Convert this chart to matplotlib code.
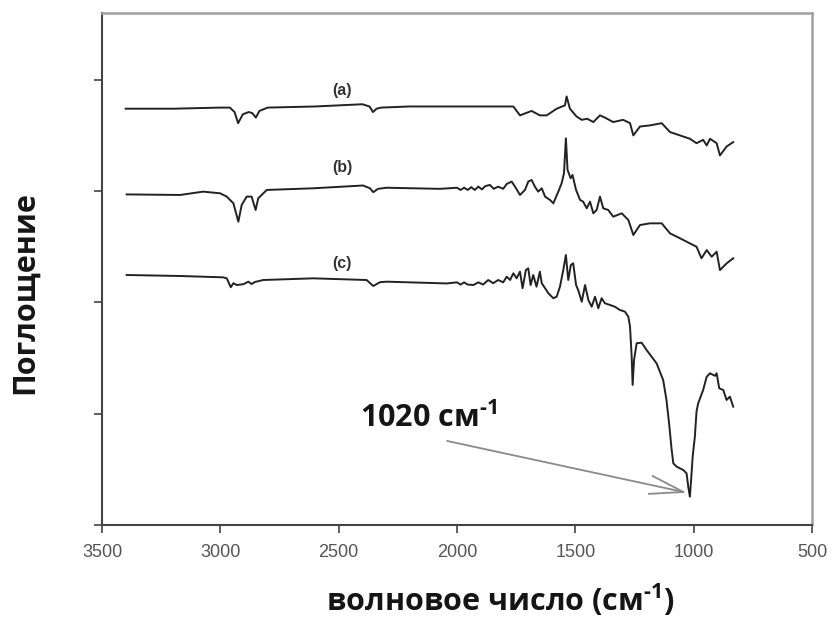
import matplotlib
matplotlib.use("Agg")
import matplotlib.pyplot as plt

plt.rcParams['mathtext.default'] = 'regular'
plt.rcParams['mathtext.fontset'] = 'custom'
plt.rcParams['mathtext.rm'] = 'Open Sans:bold'

# wavenumbers (cm-1) and absorbance, one list per spectrum
wn_a = [3400, 3200, 3000, 2960, 2940, 2925, 2905, 2880, 2865, 2850, 2835, 2800,
        2600, 2400, 2370, 2355, 2340, 2320, 2200, 2030, 1800, 1762, 1734, 1685,
        1650, 1621, 1579, 1544, 1537, 1523, 1495, 1473, 1450, 1424, 1396, 1375,
        1340, 1298, 1269, 1255, 1227, 1185, 1135, 1100, 1058, 1016, 988, 960,
        945, 931, 903, 889, 861, 833]
abs_a = [3.74, 3.74, 3.75, 3.75, 3.71, 3.61, 3.69, 3.71, 3.70, 3.66, 3.72, 3.75,
         3.76, 3.78, 3.76, 3.71, 3.74, 3.75, 3.76, 3.76, 3.76, 3.76, 3.68, 3.72,
         3.68, 3.68, 3.74, 3.77, 3.85, 3.74, 3.67, 3.64, 3.65, 3.62, 3.68, 3.66,
         3.62, 3.64, 3.61, 3.50, 3.58, 3.59, 3.61, 3.53, 3.50, 3.47, 3.43, 3.46,
         3.41, 3.47, 3.43, 3.32, 3.40, 3.44]

wn_b = [3396, 3170, 3073, 3001, 2973, 2945, 2924, 2910, 2889, 2868, 2851, 2840,
        2804, 2608, 2397, 2368, 2354, 2334, 2297, 2072, 2000, 1985, 1970, 1955,
        1940, 1925, 1910, 1895, 1880, 1861, 1845, 1826, 1805, 1790, 1769, 1755,
        1734, 1713, 1699, 1685, 1671, 1657, 1642, 1628, 1607, 1593, 1572, 1558,
        1548, 1540, 1533, 1520, 1512, 1497, 1480, 1467, 1452, 1438, 1424, 1410,
        1396, 1382, 1361, 1340, 1304, 1276, 1255, 1227, 1185, 1135, 1100, 1058,
        1016, 988, 967, 945, 924, 903, 889, 861, 833]
abs_b = [2.97, 2.965, 2.995, 2.98, 2.95, 2.89, 2.725, 2.875, 2.95, 2.95, 2.83, 2.935,
         3.01, 3.025, 3.05, 3.025, 2.99, 3.02, 3.03, 3.02, 3.03, 3.01, 3.03, 3.01,
         3.035, 3.01, 3.04, 3.015, 3.045, 3.055, 3.02, 3.04, 3.02, 3.064, 3.085, 3.04,
         2.965, 3.01, 3.085, 3.10, 3.04, 2.995, 3.025, 2.95, 2.92, 2.89, 2.995, 3.07,
         3.16, 3.474, 3.19, 3.115, 3.145, 3.01, 2.92, 2.905, 2.845, 2.905, 2.80, 2.83,
         2.95, 2.845, 2.83, 2.77, 2.80, 2.74, 2.605, 2.695, 2.71, 2.71, 2.62, 2.576,
         2.53, 2.50, 2.396, 2.47, 2.41, 2.455, 2.29, 2.35, 2.396]

wn_c = [3396, 3170, 2988, 2973, 2956, 2945, 2931, 2903, 2882, 2868, 2854, 2819,
        2608, 2382, 2354, 2326, 2297, 2072, 2044, 2000, 1985, 1970, 1955, 1931,
        1910, 1890, 1868, 1847, 1826, 1805, 1790, 1776, 1762, 1748, 1734, 1723,
        1709, 1699, 1689, 1678, 1664, 1650, 1642, 1628, 1614, 1593, 1579, 1565,
        1551, 1540, 1530, 1519, 1509, 1497, 1488, 1473, 1459, 1445, 1431, 1417,
        1403, 1389, 1375, 1354, 1333, 1312, 1290, 1276, 1269, 1262, 1258, 1252,
        1241, 1220, 1199, 1157, 1129, 1115, 1104, 1093, 1086, 1072, 1044, 1030,
        1023, 1016, 1010, 1004, 995, 988, 981, 960, 945, 931, 910, 903, 892, 875,
        861, 847, 833]
abs_c = [2.246, 2.237, 2.225, 2.216, 2.136, 2.172, 2.156, 2.163, 2.186, 2.165, 2.183, 2.201,
         2.216, 2.201, 2.147, 2.181, 2.186, 2.172, 2.17, 2.18, 2.16, 2.18, 2.16, 2.156,
         2.18, 2.16, 2.201, 2.172, 2.201, 2.18, 2.231, 2.201, 2.261, 2.216, 2.276, 2.127,
         2.291, 2.306, 2.156, 2.246, 2.141, 2.276, 2.172, 2.127, 2.082, 2.037, 2.051, 2.141,
         2.291, 2.426, 2.201, 2.336, 2.351, 2.156, 2.111, 2.006, 2.156, 2.021, 1.961, 2.051,
         1.947, 2.037, 1.992, 1.977, 1.961, 1.932, 1.916, 1.871, 1.782, 1.512, 1.258, 1.482,
         1.633, 1.638, 1.572, 1.453, 1.303, 1.123, 0.914, 0.674, 0.554, 0.524, 0.494, 0.464,
         0.344, 0.254, 0.434, 0.62, 0.793, 1.02, 1.093, 1.213, 1.332, 1.363, 1.34, 1.363,
         1.228, 1.213, 1.123, 1.153, 1.063]

labels = ['(a)', '(b)', '(c)']
label_wn = [2486, 2486, 2486]
label_y = [3.90, 3.21, 2.35]

xticks = [3500, 3000, 2500, 2000, 1500, 1000, 500]
yticks = [0, 1, 2, 3, 4]

peak_wn = 1029
peak_y = 0.29
note_wn = 2042
note_y = 0.755

fig = plt.figure(figsize=(8.33, 6.18), dpi=100)
ax = fig.add_axes([0.1225, 0.1505, 0.8523, 0.8285])

for wn, ab in [(wn_a, abs_a), (wn_b, abs_b), (wn_c, abs_c)]:
    ax.plot(wn, ab, color='#222222', lw=1.4)

for t, xw, yy in zip(labels, label_wn, label_y):
    ax.text(xw, yy, t, ha='center', va='center', fontsize=11.5, fontweight='bold',
            family='Liberation Sans', color='#333333')

ax.set_xlim(3500, 500)
ax.set_ylim(0, 4.6)
ax.set_xticks(xticks)
ax.set_xticklabels([str(v) for v in xticks])
ax.set_yticks(yticks)
ax.set_yticklabels([])
ax.tick_params(direction='out', length=6, width=1.2, color='#444444',
               labelsize=13, labelcolor='#555555', pad=8)
for lab in ax.get_xticklabels():
    lab.set_family('Liberation Sans')

for side in ['left', 'bottom']:
    ax.spines[side].set_color('#444444')
    ax.spines[side].set_linewidth(1.5)
for side in ['top', 'right']:
    ax.spines[side].set_color('#a0a0a0')
    ax.spines[side].set_linewidth(1.8)

# annotation for the main band
ax.annotate('', xy=(peak_wn, peak_y), xytext=(note_wn, note_y),
            arrowprops=dict(arrowstyle='->,head_length=1.1,head_width=0.3',
                            color='#8a8a8a', lw=1.3, shrinkA=0, shrinkB=0,
                            mutation_scale=22))
ax.text(2410, 0.88, r'1020 см$^{\text{-1}}$', ha='left', va='baseline', fontsize=22,
        fontweight='bold', family=['Open Sans', 'DejaVu Sans'], color='#151515')

fig.text(500 / 833, 1 - 600 / 618, r'волновое число (см$^{\text{-1}}$)', ha='center',
         va='center', fontsize=22, fontweight='bold', family=['Open Sans', 'DejaVu Sans'],
         color='#151515')
fig.text(25 / 833, 1 - 293 / 618, 'Поглощение', rotation=90, ha='center', va='center',
         fontsize=22, fontweight='bold', family=['Open Sans', 'DejaVu Sans'], color='#151515')

fig.savefig('out.png', dpi=100)
